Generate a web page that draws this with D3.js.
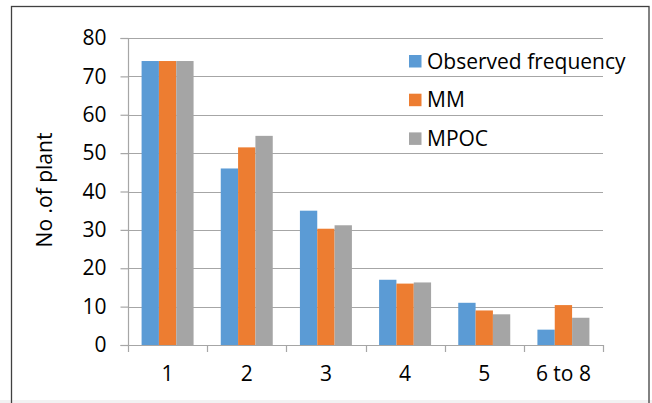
<!DOCTYPE html>
<html><head><meta charset="utf-8">
<script src="https://cdn.jsdelivr.net/npm/d3@7"></script>
<style>html,body{margin:0;padding:0;background:#fff;}svg{display:block;}</style>
</head><body>
<script>
const categories = ["1","2","3","4","5","6 to 8"];
const seriesNames = ["Observed frequency","MM","MPOC"];
const observed = [74, 46, 35, 17, 11, 4];
const mm = [74, 51.5, 30.3, 16, 9, 10.4];
const mpoc = [74, 54.5, 31.2, 16.3, 8, 7.1];
const yTicks = [0,10,20,30,40,50,60,70,80];
const colors = ["#5B9BD5","#ED7D31","#A5A5A5"];

(function(){
const W = 652, H = 403;
const svg = d3.select("body").append("svg").attr("width", W).attr("height", H);
const font = "'Open Sans', sans-serif";
const fs = 21;

// background & frame
svg.append("rect").attr("x",0).attr("y",0).attr("width",W).attr("height",H).attr("fill","#fff");
svg.append("rect").attr("x",0).attr("y",400).attr("width",W).attr("height",3).attr("fill","#f2f2f2");
svg.append("rect").attr("x",11.5).attr("y",6.5).attr("width",637.5).attr("height",400)
  .attr("fill","none").attr("stroke","#404040").attr("stroke-width",1.3);

const pLeft = 128, pRight = 603, pTop = 38, pBottom = 345;
const x0 = d3.scaleBand().domain(categories).range([pLeft, pRight]).paddingInner(0).paddingOuter(0);
const x1 = d3.scaleBand().domain(seriesNames).range([0, x0.bandwidth()]).paddingInner(0).paddingOuter(0.784);
const y = d3.scaleLinear().domain([0, 80]).range([pBottom, pTop]);

// gridlines
svg.append("g").selectAll("line").data(yTicks.filter(d => d > 0)).join("line")
  .attr("x1", pLeft).attr("x2", pRight)
  .attr("y1", d => Math.round(y(d)) + 0.5).attr("y2", d => Math.round(y(d)) + 0.5)
  .attr("stroke", "#a6a6a6").attr("stroke-width", 1.2);

// bars
const data = [observed, mm, mpoc];
categories.forEach((c, i) => {
  seriesNames.forEach((s, j) => {
    svg.append("rect")
      .attr("x", x0(c) + x1(s))
      .attr("y", y(data[j][i]))
      .attr("width", x1.bandwidth())
      .attr("height", y(0) - y(data[j][i]))
      .attr("fill", colors[j]);
  });
});

// y axis
const yAxis = d3.axisLeft(y).tickValues(yTicks).tickSize(8).tickPadding(14);
const gy = svg.append("g").attr("transform", `translate(${pLeft+0.5},0)`).call(yAxis);
gy.select(".domain").attr("stroke", "#a6a6a6").attr("stroke-width", 1.2).attr("d", `M-8,${pTop+0.5}H0V${pBottom+0.5}H-8`);
gy.selectAll(".tick line").attr("stroke", "#a6a6a6").attr("stroke-width", 1.2);
gy.selectAll(".tick text").attr("font-family", font).attr("font-size", fs).attr("fill", "#000");

// x axis
const xAxis = d3.axisBottom(x0).tickSize(0).tickPadding(21);
const gx = svg.append("g").attr("transform", `translate(0,${pBottom+0.5})`).call(xAxis);
gx.select(".domain").attr("stroke", "#a6a6a6").attr("stroke-width", 1.2).attr("d", `M${pLeft},0H${pRight}`);
gx.selectAll(".tick text").attr("font-family", font).attr("font-size", fs).attr("fill", "#000");
// category boundary ticks
const bounds = categories.map(c => x0(c)).concat([x0(categories[categories.length-1]) + x0.step()]);
svg.append("g").selectAll("line").data(bounds).join("line")
  .attr("x1", d => Math.round(d)+0.5).attr("x2", d => Math.round(d)+0.5)
  .attr("y1", pBottom).attr("y2", pBottom + 7)
  .attr("stroke", "#a6a6a6").attr("stroke-width", 1.2);

// y label
svg.append("text").attr("transform", `translate(52,190) rotate(-90)`)
  .attr("text-anchor", "middle").attr("font-family", font).attr("font-size", fs).attr("fill", "#000")
  .text("No .of plant");

// legend
const lg = svg.append("g");
seriesNames.forEach((s, j) => {
  const yy = 55 + j * 38.7;
  lg.append("rect").attr("x", 409).attr("y", yy).attr("width", 12.5).attr("height", 12.5).attr("fill", colors[j]);
  lg.append("text").attr("x", 427).attr("y", yy + 13.5).attr("font-family", font).attr("font-size", fs)
    .attr("fill", "#000").text(s);
});
})();
</script>
</body></html>
